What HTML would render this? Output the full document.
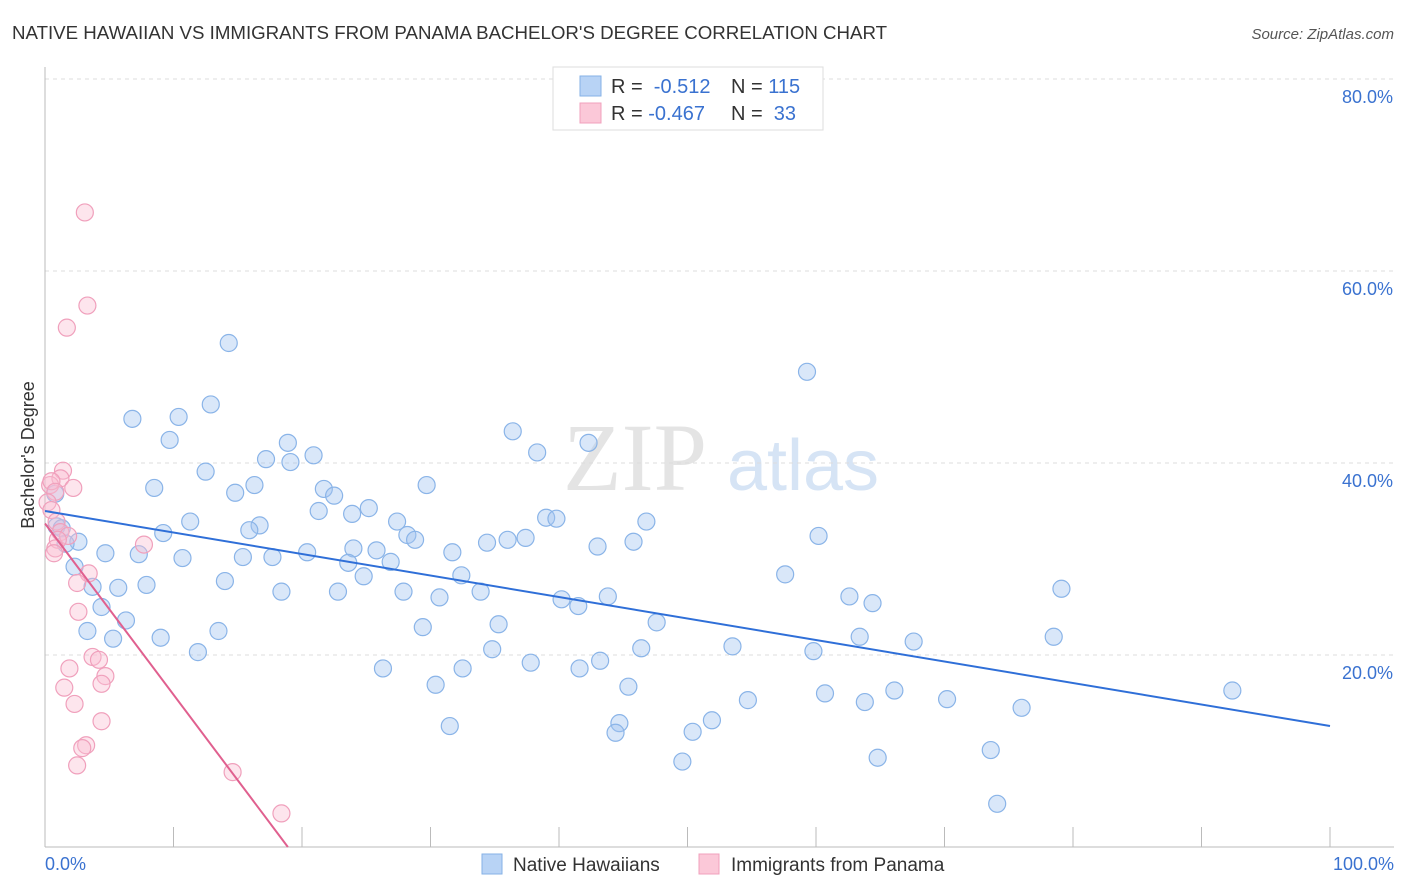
<!DOCTYPE html>
<html><head><meta charset="utf-8"><style>
body{margin:0;background:#fff;font-family:"Liberation Sans",sans-serif;}
svg{display:block}
</style></head><body>
<svg id="chart" width="1406" height="892">
<text x="12" y="39" font-size="18.7" fill="#333">NATIVE HAWAIIAN VS IMMIGRANTS FROM PANAMA BACHELOR'S DEGREE CORRELATION CHART</text>
<text x="1394" y="39" font-size="15" fill="#555" font-style="italic" text-anchor="end">Source: ZipAtlas.com</text>
<g>
<text x="635" y="490" font-size="96" fill="#e4e4e4" font-family="Liberation Serif,serif" text-anchor="middle">ZIP</text>
<text x="803" y="490" font-size="72" fill="#d6e4f5" text-anchor="middle">atlas</text>
</g>
<g id="grid"></g><g id="axes"></g><g id="pts"></g><g id="trends"></g>
<text x="34" y="455" font-size="18" fill="#333" text-anchor="middle" transform="rotate(-90 34 455)">Bachelor's Degree</text>
<text x="45" y="870" font-size="18" fill="#3a72d0">0.0%</text>
<text x="1394" y="870" font-size="18" fill="#3a72d0" text-anchor="end">100.0%</text>
<g>
<rect x="553" y="67" width="270" height="63" fill="#fff" stroke="#ddd"/>
<rect x="580" y="76" width="21" height="20" fill="#b8d3f5" stroke="#86b1e6"/>
<rect x="580" y="103" width="21" height="20" fill="#fbc8d8" stroke="#f0a0bc"/>
<text x="611" y="93" font-size="20" fill="#333">R = <tspan fill="#3a72d0">&#160;-0.512</tspan><tspan x="731">N = </tspan><tspan fill="#3a72d0">115</tspan></text>
<text x="611" y="120" font-size="20" fill="#333">R = <tspan fill="#3a72d0">-0.467</tspan><tspan x="731">N = </tspan><tspan fill="#3a72d0">&#160;33</tspan></text>
</g>
<g>
<rect x="482" y="854" width="20" height="20" fill="#b8d3f5" stroke="#86b1e6"/>
<text x="513" y="871" font-size="19" fill="#333">Native Hawaiians</text>
<rect x="699" y="854" width="20" height="20" fill="#fbc8d8" stroke="#f0a0bc"/>
<text x="731" y="871" font-size="19" fill="#333">Immigrants from Panama</text>
</g>
</svg>
<script>
const yTicks=[20,40,60,80];
const yTickLabels=["20.0%","40.0%","60.0%","80.0%"];
const xTicks=[0,10,20,30,40,50,60,70,80,90,100];
const blueX=[14.3,59.3,12.9,10.4,6.8,36.4,42.3,9.7,18.9,38.3,20.9,17.2,19.1,12.5,29.7,8.5,16.3,14.8,21.7,22.5,0.8,21.3,25.2,23.9,39.0,39.8,46.8,11.3,27.4,16.7,15.9,0.9,1.3,9.2,60.2,28.2,28.8,37.4,36.0,34.4,45.8,2.6,1.6,43.0,24.0,25.8,31.7,4.7,20.4,7.3,10.7,15.4,17.7,23.6,26.9,2.3,32.4,24.8,57.6,14.0,7.9,5.7,3.7,22.8,18.4,27.9,33.9,79.1,30.7,40.2,43.8,62.6,64.4,41.5,4.4,6.3,47.6,35.3,29.4,13.5,3.3,9.0,5.3,63.4,78.5,67.6,53.5,46.4,34.8,59.8,11.9,43.2,37.8,41.6,26.3,32.5,45.4,30.4,60.7,66.1,92.4,54.7,70.2,63.8,76.0,51.9,44.7,31.5,50.4,44.4,73.6,64.8,49.6,74.1];
const blueY=[52.5,49.5,46.1,44.8,44.6,43.3,42.1,42.4,42.1,41.1,40.8,40.4,40.1,39.1,37.7,37.4,37.7,36.9,37.3,36.6,36.8,35.0,35.3,34.7,34.3,34.2,33.9,33.9,33.9,33.5,33.0,33.4,33.2,32.7,32.4,32.5,32.0,32.2,32.0,31.7,31.8,31.8,31.6,31.3,31.1,30.9,30.7,30.6,30.7,30.5,30.1,30.2,30.2,29.6,29.7,29.2,28.3,28.2,28.4,27.7,27.3,27.0,27.1,26.6,26.6,26.6,26.6,26.9,26.0,25.8,26.1,26.1,25.4,25.1,25.0,23.6,23.4,23.2,22.9,22.5,22.5,21.8,21.7,21.9,21.9,21.4,20.9,20.7,20.6,20.4,20.3,19.4,19.2,18.6,18.6,18.6,16.7,16.9,16.0,16.3,16.3,15.3,15.4,15.1,14.5,13.2,12.9,12.6,12.0,11.9,10.1,9.3,8.9,4.5];
const pinkX=[3.1,3.3,1.7,1.4,1.2,2.2,0.4,0.5,0.8,0.2,0.5,0.9,1.2,1.8,1.0,0.8,0.7,7.7,3.4,2.5,2.6,3.7,4.2,1.9,4.7,4.4,1.5,2.3,4.4,3.2,2.9,2.5,14.6,18.4];
const pinkY=[66.1,56.4,54.1,39.2,38.4,37.4,37.7,38.1,37.0,35.9,35.1,33.9,32.8,32.4,32.0,31.1,30.6,31.5,28.5,27.5,24.5,19.8,19.5,18.6,17.8,17.0,16.6,14.9,13.1,10.6,10.3,8.5,7.8,3.5];
const blueTrendX=[0,100];
const blueTrendY=[35.0,12.6];
const pinkTrendX=[0,18.9];
const pinkTrendY=[33.7,0];
const X0=45,X1=1330,Y0=847,PPY=9.6;
const xs=v=>X0+(X1-X0)*v/100;
const ys=v=>Y0-v*PPY;
const NS="http://www.w3.org/2000/svg";
function mk(tag,attrs,parent){const e=document.createElementNS(NS,tag);for(const k in attrs)e.setAttribute(k,attrs[k]);document.getElementById(parent).appendChild(e);return e;}
yTicks.forEach((t,i)=>{
 const g=mk('line',{x1:45,x2:1394,y1:ys(t),y2:ys(t),stroke:'#ddd','stroke-dasharray':'4,4'},'grid');
 
 
 const l=mk('text',{x:1393,y:ys(t)+24,'font-size':18,fill:'#3a72d0','text-anchor':'end'},'grid');
 l.textContent=yTickLabels[i];
 
 
});
const ax=mk('line',{x1:45,x2:45,y1:67,y2:847,stroke:'#bbb'},'axes');


const bx=mk('line',{x1:45,x2:1394,y1:847,y2:847,stroke:'#bbb'},'axes');


xTicks.forEach(t=>{
 const k=mk('line',{x1:xs(t),x2:xs(t),y1:827,y2:847,stroke:'#bbb'},'axes');
 
 
});
blueX.forEach((v,i)=>{
 const c=mk('circle',{cx:xs(v),cy:ys(blueY[i]),r:8.5,fill:'rgba(160,195,240,0.4)',stroke:'#8ab4e8','stroke-width':1.2},'pts');
 
 
});
pinkX.forEach((v,i)=>{
 const c=mk('circle',{cx:xs(v),cy:ys(pinkY[i]),r:8.5,fill:'rgba(250,190,210,0.4)',stroke:'#f0a0bc','stroke-width':1.2},'pts');
 
 
});
const bt=mk('line',{x1:xs(blueTrendX[0]),y1:ys(blueTrendY[0]),x2:xs(blueTrendX[1]),y2:ys(blueTrendY[1]),stroke:'#2f6fd8','stroke-width':2},'trends');


const pt=mk('line',{x1:xs(pinkTrendX[0]),y1:ys(pinkTrendY[0]),x2:xs(pinkTrendX[1]),y2:ys(pinkTrendY[1]),stroke:'#e0608f','stroke-width':2},'trends');


</script>
</body></html>
